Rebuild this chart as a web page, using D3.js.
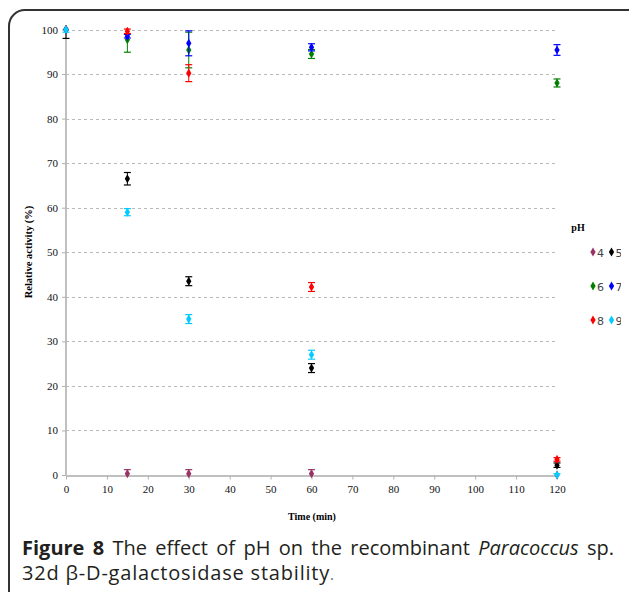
<!DOCTYPE html>
<html><head><meta charset="utf-8">
<script src="https://cdn.jsdelivr.net/npm/d3@7"></script>
<style>body{margin:0;background:#fff;}svg{display:block;}</style>
</head><body>
<svg id="c" width="629" height="592"></svg>
<script>
const times = [0, 15, 30, 60, 120];
const xTicks = [0,10,20,30,40,50,60,70,80,90,100,110,120];
const yTicks = [0,10,20,30,40,50,60,70,80,90,100];
const seriesNames = ["4","5","6","7","8","9"];
const seriesColors = ["#993366","#000000","#008000","#0000ff","#ff0000","#00ccff"];
const pH4 = [100, 0.3, 0.3, 0.3, 0.0];
const pH5 = [100, 66.5, 43.5, 24.0, 2.2];
const pH6 = [100, 97.7, 95.4, 94.5, 88.0];
const pH7 = [100, 98.5, 96.9, 96.0, 95.4];
const pH8 = [100, 99.6, 90.2, 42.2, 3.5];
const pH9 = [100, 59.0, 35.0, 27.0, 0.0];
const err4 = [0, 0.9, 0.9, 0.9, 0];
const err5 = [2.0, 1.4, 1.0, 1.0, 0.5];
const err6 = [0, 2.8, 4.0, 1.0, 0.9];
const err7 = [0, 0.4, 2.8, 0.8, 1.2];
const err8 = [0, 0.5, 1.9, 1.0, 0.4];
const err9 = [0.6, 0.8, 1.0, 1.0, 0.3];
const values = [pH4,pH5,pH6,pH7,pH8,pH9];
const errors = [err4,err5,err6,err7,err8,err9];
const legendLabel = "pH";
const xTitle = "Time (min)";
const yTitle = "Relative activity (%)";

const svg = d3.select("#c");
svg.append("rect").attr("x",9).attr("y",10).attr("width",640).attr("height",600)
  .attr("rx",16).attr("fill","none").attr("stroke","#333").attr("stroke-width",2);

const x = d3.scaleLinear().domain([0,120]).range([66,557]);
const y = d3.scaleLinear().domain([0,100]).range([475,29.5]);
const serif = "'Liberation Serif','Times New Roman',serif";

const defs = svg.append("defs");
defs.append("clipPath").attr("id","plotclip").append("rect")
  .attr("x",0).attr("y",y(100)-1.5).attr("width",629).attr("height",y(0)-y(100)+1.5);
defs.append("clipPath").attr("id","legclip").append("rect")
  .attr("x",0).attr("y",0).attr("width",621).attr("height",592);

// gridlines
svg.append("g").selectAll("line").data(yTicks.filter(d=>d>0)).join("line")
  .attr("x1",x(0)).attr("x2",x(120)).attr("y1",d=>Math.round(y(d))+0.5).attr("y2",d=>Math.round(y(d))+0.5)
  .attr("stroke","#b8b8b8").attr("stroke-dasharray","3,3").attr("stroke-width",1.2);

// axes
const gx = svg.append("g").attr("transform",`translate(0,${Math.round(y(0))+0.5})`)
  .call(d3.axisBottom(x).tickValues(xTicks).tickSize(4).tickPadding(6).tickSizeOuter(0));
const gy = svg.append("g").attr("transform",`translate(${x(0)},0)`)
  .call(d3.axisLeft(y).tickValues(yTicks).tickSize(4).tickPadding(4).tickSizeOuter(0));
[gx,gy].forEach(g=>{
  g.attr("font-family",serif).attr("font-size",11);
  g.select(".domain").attr("stroke","#c0c0c0").attr("stroke-width",2);
  g.selectAll(".tick line").attr("stroke","#b0b0b0");
  g.selectAll("text").style("font-family",serif).style("font-size","11px").attr("fill","#111");
});
gy.select(".domain").attr("d",`M0,${y(0)}V${y(100)}`);

// series
const diamond = d3.symbol().type(d3.symbolDiamond).size(24);
values.forEach((vals,si)=>{
  const col = seriesColors[si];
  const g = svg.append("g");
  const eg = g.append("g").attr("clip-path","url(#plotclip)");
  const pts = times.map((t,i)=>({t, v:vals[i], e:errors[si][i]}));
  pts.forEach(p=>{
    if(p.e>0){
      const cx = x(p.t);
      eg.append("line").attr("x1",cx).attr("x2",cx).attr("y1",y(p.v-p.e)).attr("y2",y(p.v+p.e))
        .attr("stroke",col).attr("stroke-width",1);
      [p.v-p.e,p.v+p.e].forEach(v=>eg.append("line").attr("x1",cx-3.5).attr("x2",cx+3.5)
        .attr("y1",y(v)).attr("y2",y(v)).attr("stroke",col).attr("stroke-width",1.2));
    }
  });
  g.selectAll("path").data(pts).join("path").attr("d",diamond)
    .attr("transform",p=>`translate(${x(p.t)},${y(p.v)})`).attr("fill",col);
});

// titles
svg.append("text").attr("x",312).attr("y",520).attr("text-anchor","middle")
  .style("font-family",serif).attr("font-weight","bold").attr("font-size",10).text(xTitle);
svg.append("text").attr("transform","translate(32,252) rotate(-90)").attr("text-anchor","middle")
  .style("font-family",serif).attr("font-weight","bold").attr("font-size",10.5).text(yTitle);

// legend
svg.append("text").attr("x",578).attr("y",231).attr("text-anchor","middle")
  .style("font-family",serif).attr("font-weight","bold").attr("font-size",10).text(legendLabel);
const legPos = [[593,252],[611.5,252],[593,286],[611.5,286],[593,320],[611.5,320]];
const lg = svg.append("g").attr("clip-path","url(#legclip)");
seriesNames.forEach((n,i)=>{
  const [lx,ly] = legPos[i];
  lg.append("path").attr("d",diamond).attr("transform",`translate(${lx},${ly})`).attr("fill",seriesColors[i]);
  lg.append("text").attr("x",lx+4).attr("y",ly+4.5).style("font-family","'DejaVu Sans',sans-serif")
    .attr("font-size",11).attr("fill","#444").text(n);
});

// caption
const cap = svg.append("g").style("font-family","'Open Sans',sans-serif").attr("font-size",20).attr("fill","#231f20");
const l1 = cap.append("text").attr("x",22).attr("y",555);
l1.append("tspan").attr("font-weight","bold").text("Figure 8");
l1.append("tspan").text(" The effect of pH on the recombinant ");
l1.append("tspan").attr("font-style","italic").text("Paracoccus");
l1.append("tspan").text(" sp.");
const w = l1.node().getComputedTextLength();
const target = 614-22;
l1.attr("word-spacing", (target-w)/10);
const l2 = cap.append("text").attr("x",22).attr("y",580).attr("letter-spacing",0.8);
l2.append("tspan").text("32d β-D-galactosidase stability");
l2.append("tspan").attr("fill","#666").attr("font-size",15).text(".");
</script>
</body></html>
